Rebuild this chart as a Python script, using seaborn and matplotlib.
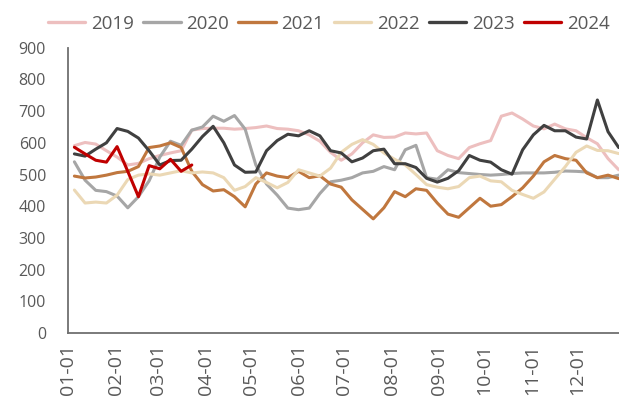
import pandas as pd
import matplotlib
matplotlib.use("Agg")
import matplotlib.pyplot as plt
import matplotlib.dates as mdates
import seaborn as sns

# weekly points, same calendar position for every year
dates = pd.date_range("2021-01-05", periods=52, freq="7D")

v2019 = [591, 601, 596, 575, 555, 530, 535, 550, 560, 568, 575, 640, 645, 646, 646, 643,
         645, 648, 653, 645, 643, 638, 625, 605, 570, 545, 565, 600, 625, 617, 618, 631,
         628, 631, 575, 560, 550, 585, 597, 607, 684, 694, 675, 653, 644, 659, 644, 638,
         616, 597, 550, 515]
v2020 = [540, 482, 450, 446, 432, 395, 430, 480, 555, 605, 592, 640, 650, 684, 668, 686,
         643, 530, 470, 435, 394, 389, 394, 440, 477, 482, 490, 505, 510, 525, 515, 578,
         592, 490, 485, 515, 506, 503, 500, 498, 500, 503, 505, 505, 505, 507, 511, 510,
         508, 490, 490, 498]
v2021 = [495, 489, 492, 498, 506, 510, 525, 585, 590, 600, 585, 510, 468, 448, 452, 430,
         398, 470, 505, 495, 490, 510, 490, 496, 470, 460, 420, 390, 360, 395, 446, 430,
         455, 450, 410, 375, 365, 395, 425, 400, 405, 430, 458, 495, 540, 560, 550, 545,
         505, 490, 498, 487]
v2022 = [451, 410, 413, 410, 435, 484, 498, 502, 498, 505, 512, 505, 508, 505, 490, 450,
         462, 490, 475, 458, 475, 515, 505, 495, 520, 570, 595, 610, 595, 568, 548, 530,
         500, 468, 460, 455, 462, 490, 495, 480, 477, 450, 437, 425, 445, 485, 525, 570,
         590, 576, 575, 566]
v2023 = [565, 558, 580, 600, 645, 636, 615, 575, 530, 544, 545, 580, 620, 652, 600, 530,
         507, 508, 575, 607, 627, 622, 638, 622, 575, 568, 540, 552, 575, 580, 534, 534,
         522, 488, 476, 488, 512, 560, 545, 539, 515, 501, 578, 625, 655, 638, 638, 618,
         612, 735, 635, 585]
v2024 = [586, 565, 545, 539, 588, 510, 430, 528, 518, 548, 510, 530]

years = ["2019", "2020", "2021", "2022", "2023", "2024"]
series = [v2019, v2020, v2021, v2022, v2023, v2024]
colors = ["#EDBFBF", "#A6A6A6", "#C0773E", "#EBD8B5", "#404040", "#C00000"]

frames = []
for y, vals in zip(years, series):
    frames.append(pd.DataFrame({"date": dates[:len(vals)], "value": vals, "year": y}))
df = pd.concat(frames, ignore_index=True)

sns.set_theme(style="white")
plt.rcParams["font.family"] = ["Open Sans", "DejaVu Sans"]
text_c = "#595959"

fig = plt.figure(figsize=(6.19, 3.97), dpi=100)
ax = fig.add_axes([68.3 / 619, 64 / 397, 555 / 619, 285.3 / 397])

sns.lineplot(data=df, x="date", y="value", hue="year", hue_order=years,
             palette=dict(zip(years, colors)), linewidth=2.2, ax=ax, legend=False)

ax.set_xlim(pd.Timestamp("2021-01-01"), pd.Timestamp("2021-12-31"))
ax.set_ylim(0, 900)
ax.set_yticks(range(0, 901, 100))
ax.xaxis.set_major_locator(mdates.MonthLocator())
ax.xaxis.set_major_formatter(mdates.DateFormatter("%m-%d"))
ax.set_xlabel("")
ax.set_ylabel("")

for s in ["top", "right"]:
    ax.spines[s].set_visible(False)
for s in ["left", "bottom"]:
    ax.spines[s].set_color("#6f6f6f")
    ax.spines[s].set_linewidth(1.3)

ax.tick_params(axis="y", direction="in", length=5, width=1.2, color="#6f6f6f",
               labelsize=11.5, labelcolor=text_c, pad=16)
ax.tick_params(axis="x", direction="out", length=5, width=1.2, color="#6f6f6f",
               labelsize=14, labelcolor=text_c, pad=3, labelrotation=90)

handles = [plt.Line2D([], [], color=c, lw=2.4) for c in colors]
fig.legend(handles, years, loc="upper center", bbox_to_anchor=(0.531, 1.005),
           ncol=6, frameon=False, fontsize=13.5, labelcolor=text_c,
           handlelength=2.0, handletextpad=0.3, columnspacing=0.5)

fig.savefig("out.png", dpi=100)
